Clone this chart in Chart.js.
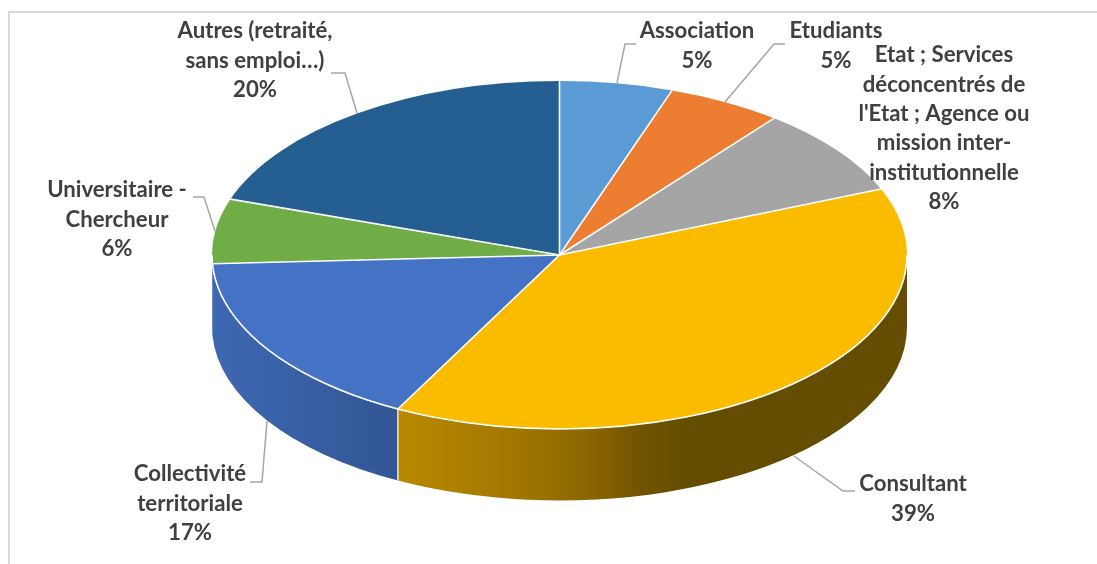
<!DOCTYPE html>
<html><head><meta charset="utf-8">
<style>html,body{margin:0;padding:0;background:#fff}#w{position:relative;width:1097px;height:564px}canvas{display:block}</style>
<script src="https://cdn.jsdelivr.net/npm/chart.js@4"></script></head>
<body><div id="w"><canvas id="c" width="1097" height="564"></canvas></div>
<script>
const categories = ["Association","Etudiants","Etat ; Services\ndéconcentrés de\nl'Etat ; Agence ou\nmission inter-\ninstitutionnelle","Consultant","Collectivité\nterritoriale","Universitaire -\nChercheur","Autres (retraité,\nsans emploi…)"];
const shares = [5.25,5.35,8.2,38.9,16.5,6.0,19.8];
const topColors = ["#5B9BD5","#ED7D31","#A5A5A5","#FBBC00","#4472C4","#70AD47","#255E91"];
const labelAnchors = [[697,31],[836,31],[944,55],[913,484],[190,474],[117,190],[255,31]];
const leaderPaths = [
 [[636,44],[625,44],[617,83]],
 [[785,44],[774,44],[725,102]],
 null,
 [[855,491],[843,491],[794,456]],
 [[250,482],[262,482],[267,421]],
 [[193,197],[204,197],[215,231]],
 [[331,73],[345,73],[357,113]]
];
const wallStops = {
 3:[[398,"#BA8900"],[520,"#A07600"],[600,"#856300"],[640,"#705400"],[690,"#644C00"],[907,"#644C00"]],
 4:[[212,"#3E68B2"],[398,"#325695"]],
 5:[[205,"#3E68B2"],[215,"#3E68B2"]]
};
const RX = 347.5, RY = 174, DEPTH = 71.5, LINE_H = 29.4;
const FONT = 'bold 22.2px Lato';

const pie3d = {
 id:'pie3d',
 beforeDraw(chart){
  const {ctx,width,height}=chart;
  ctx.save();ctx.strokeStyle='#D9D9D9';ctx.lineWidth=2;
  ctx.beginPath();ctx.moveTo(9,height+2);ctx.lineTo(9,12);ctx.lineTo(width+2,12);ctx.stroke();ctx.restore();
 },
 beforeDatasetDraw(chart){
  const {ctx}=chart;
  const arcs=chart.getDatasetMeta(0).data;
  const cx=arcs[0].x, cy=arcs[0].y;
  arcs.forEach((el,i)=>{
   const a=Math.max(el.startAngle,0), b=Math.min(el.endAngle,Math.PI);
   if(b<=a||!wallStops[i])return;
   const stops=wallStops[i];
   const x0=stops[0][0], x1=stops[stops.length-1][0];
   const g=ctx.createLinearGradient(x0,0,x1,0);
   stops.forEach(s=>g.addColorStop((s[0]-x0)/(x1-x0),s[1]));
   ctx.beginPath();
   ctx.ellipse(cx,cy,RX,RY,0,a,b,false);
   ctx.ellipse(cx,cy+DEPTH,RX,RY,0,b,a,true);
   ctx.closePath();ctx.fillStyle=g;ctx.fill();
  });
  ctx.strokeStyle='#EDEDED';ctx.lineWidth=1.4;
  arcs.forEach(el=>{
   const t=el.endAngle;
   if(t>0.01&&t<Math.PI-0.2){
    const x=cx+RX*Math.cos(t),y=cy+RY*Math.sin(t);
    ctx.beginPath();ctx.moveTo(x,y);ctx.lineTo(x,y+DEPTH);ctx.stroke();
   }
  });
  ctx.save();
  ctx.translate(cx,cy);ctx.scale(1,RY/RX);ctx.translate(-cx,-cy);
  return true;
 },
 afterDatasetDraw(chart){
  const {ctx}=chart;
  ctx.restore();
  const arcs=chart.getDatasetMeta(0).data;
  const cx=arcs[0].x, cy=arcs[0].y;
  ctx.save();
  ctx.strokeStyle='#FFFFFF';ctx.lineWidth=1.6;ctx.lineJoin='round';
  arcs.forEach(el=>{
   ctx.beginPath();ctx.moveTo(cx,cy);
   ctx.lineTo(cx+RX*Math.cos(el.startAngle),cy+RY*Math.sin(el.startAngle));
   ctx.stroke();
  });
  ctx.beginPath();ctx.ellipse(cx,cy,RX,RY,0,0,Math.PI,false);ctx.stroke();
  ctx.restore();
 },
 afterDatasetsDraw(chart){
  const {ctx}=chart;
  ctx.save();
  ctx.strokeStyle='#A6A6A6';ctx.lineWidth=1.5;
  leaderPaths.forEach(p=>{
   if(!p)return;
   ctx.beginPath();p.forEach((q,j)=>j?ctx.lineTo(q[0],q[1]):ctx.moveTo(q[0],q[1]));ctx.stroke();
  });
  ctx.fillStyle='#404040';ctx.font=FONT;ctx.textAlign='center';ctx.textBaseline='middle';
  categories.forEach((c,i)=>{
   const lines=c.split('\n').concat(Math.round(shares[i])+'%');
   lines.forEach((t,j)=>ctx.fillText(t,labelAnchors[i][0],labelAnchors[i][1]+j*LINE_H));
  });
  ctx.restore();
 }
};

new Chart(document.getElementById('c'),{
 type:'pie',
 data:{labels:categories,datasets:[{data:shares,backgroundColor:topColors,borderWidth:0,hoverOffset:0,clip:false}]},
 options:{responsive:false,animation:false,radius:RX,rotation:0,
  layout:{padding:{left:22,right:0,top:0,bottom:54}},
  events:[],
  plugins:{legend:{display:false},tooltip:{enabled:false}}},
 plugins:[pie3d]
});
</script></body></html>
